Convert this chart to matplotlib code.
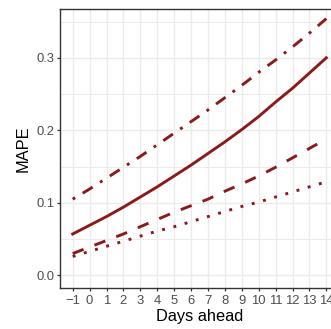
import numpy as np
import matplotlib.pyplot as plt

days = np.arange(-1, 15)
mape_solid = [0.057, 0.069, 0.081, 0.094, 0.108, 0.122, 0.137, 0.152, 0.168,
              0.184, 0.201, 0.219, 0.239, 0.258, 0.279, 0.300]
mape_dotdash = [0.105, 0.119, 0.134, 0.149, 0.164, 0.180, 0.196, 0.212, 0.228,
                0.245, 0.262, 0.280, 0.297, 0.315, 0.334, 0.354]
mape_dashed = [0.030, 0.039, 0.048, 0.057, 0.067, 0.077, 0.087, 0.096, 0.105,
               0.116, 0.126, 0.137, 0.149, 0.162, 0.175, 0.188]
mape_dotted = [0.026, 0.033, 0.040, 0.047, 0.054, 0.061, 0.067, 0.074, 0.081,
               0.088, 0.095, 0.101, 0.108, 0.115, 0.122, 0.129]

xticklabels = ["\u22121"] + [str(d) for d in range(0, 15)]
yticks = [0.0, 0.1, 0.2, 0.3]

plt.rcParams['font.family'] = ['Liberation Sans', 'DejaVu Sans']

col = "#8B1A1A"
lw = 2.1

fig = plt.figure(figsize=(3.31, 3.29), dpi=100)
ax = fig.add_axes([60 / 331, 41 / 329, 279 / 331, 279.5 / 329])

ax.plot(days, mape_dotdash, color=col, lw=lw, dashes=(1, 3, 4, 3))
ax.plot(days, mape_solid, color=col, lw=lw)
ax.plot(days, mape_dashed, color=col, lw=lw, dashes=(4, 4))
ax.plot(days, mape_dotted, color=col, lw=lw, dashes=(1, 3))

ax.set_xlim(-1.75, 14.75)
ax.set_ylim(-0.0175, 0.368)

ax.set_xticks(days)
ax.set_xticklabels(xticklabels)
ax.set_yticks(yticks)
ax.set_yticklabels(["0.0", "0.1", "0.2", "0.3"])
ax.set_yticks([0.05, 0.15, 0.25, 0.35], minor=True)

ax.grid(True, which="major", color="#EBEBEB", lw=1.0)
ax.grid(True, which="minor", axis="y", color="#EBEBEB", lw=0.7)
ax.set_axisbelow(True)

for s in ["left", "bottom", "top"]:
    ax.spines[s].set_color("#333333")
    ax.spines[s].set_linewidth(1.0)
ax.spines["right"].set_visible(False)

ax.tick_params(which="major", length=2.5, width=0.9, color="#333333",
               labelcolor="#4D4D4D", labelsize=9.4)
ax.tick_params(axis="y", pad=1.5)
ax.tick_params(axis="x", pad=2.5)
ax.tick_params(which="minor", length=0)

ax.set_xlabel("Days ahead", fontsize=11.8, color="black", labelpad=1.5)
ax.set_ylabel("MAPE", fontsize=11.8, color="black", labelpad=4)

fig.savefig("out.png", dpi=100)
